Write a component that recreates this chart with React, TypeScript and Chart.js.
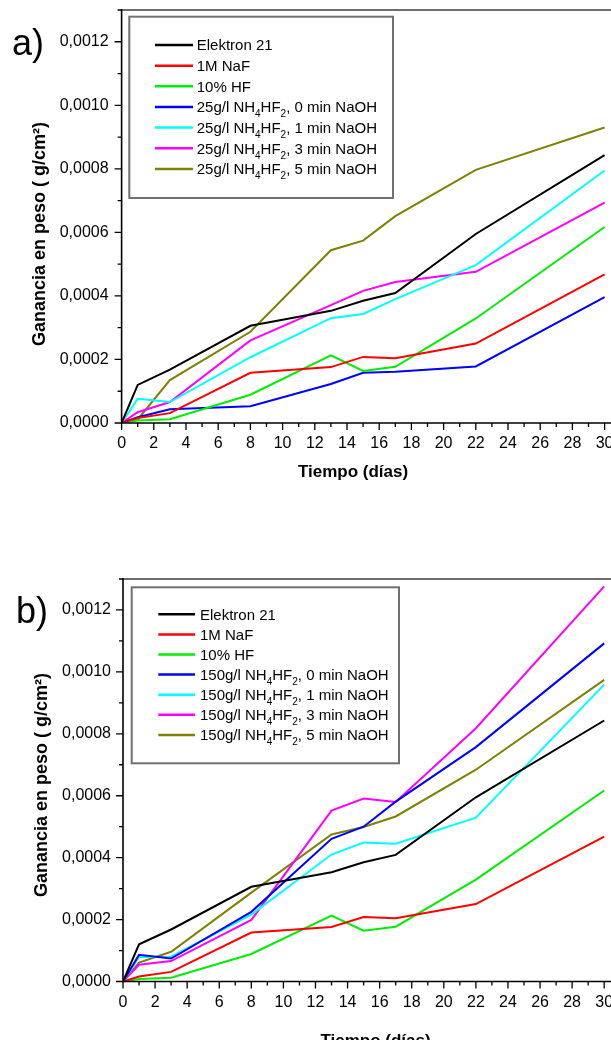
import React, { useEffect, useRef } from 'react';
import { Chart, registerables } from 'chart.js';

Chart.register(...registerables);

// ---------- data ----------
const days = [0, 1, 3, 8, 13, 15, 17, 22, 30];

const elektron21 = [0, 0.00012, 0.000168, 0.000306, 0.000353, 0.000385, 0.000409, 0.000595, 0.000843];
const naF1M = [0, 0.000016, 0.000031, 0.000158, 0.000176, 0.000208, 0.000204, 0.00025, 0.000468];
const hf10 = [0, 0.000008, 0.000012, 0.000089, 0.000213, 0.000164, 0.000177, 0.000329, 0.000617];

// a) 25 g/l NH4HF2
const a0min = [0, 0.000018, 0.000043, 0.000053, 0.000123, 0.000158, 0.000161, 0.000178, 0.000396];
const a1min = [0, 0.000076, 0.000066, 0.000207, 0.00033, 0.000343, 0.00039, 0.000497, 0.000795];
const a3min = [0, 0.000034, 0.000066, 0.00026, 0.000371, 0.000416, 0.000444, 0.000476, 0.000694];
const a5min = [0, 0.000011, 0.000135, 0.000287, 0.000544, 0.000574, 0.000651, 0.000797, 0.00093];

// b) 150 g/l NH4HF2
const b0min = [0, 0.000086, 0.000074, 0.000225, 0.000461, 0.0005, 0.000581, 0.000757, 0.001092];
const b1min = [0, 0.000079, 0.00008, 0.000216, 0.00041, 0.000449, 0.000445, 0.000529, 0.000959];
const b3min = [0, 0.000054, 0.000066, 0.000199, 0.000552, 0.000591, 0.00058, 0.000818, 0.001276];
const b5min = [0, 0.000061, 0.000096, 0.000287, 0.000475, 0.000499, 0.000533, 0.000684, 0.000974];

const labelsA = [
  'Elektron 21',
  '1M NaF',
  '10% HF',
  '25g/l NH₄HF₂, 0 min NaOH',
  '25g/l NH₄HF₂, 1 min NaOH',
  '25g/l NH₄HF₂, 3 min NaOH',
  '25g/l NH₄HF₂, 5 min NaOH',
];
const labelsB = [
  'Elektron 21',
  '1M NaF',
  '10% HF',
  '150g/l NH₄HF₂, 0 min NaOH',
  '150g/l NH₄HF₂, 1 min NaOH',
  '150g/l NH₄HF₂, 3 min NaOH',
  '150g/l NH₄HF₂, 5 min NaOH',
];

const seriesColors = ['#000000', '#ff0000', '#00ee00', '#0000ff', '#00ffff', '#ff00ff', '#808000'];

const xTickLabels = ['0', '2', '4', '6', '8', '10', '12', '14', '16', '18', '20', '22', '24', '26', '28', '30'];
const yTickLabels = ['0,0000', '0,0002', '0,0004', '0,0006', '0,0008', '0,0010', '0,0012'];
const xAxisTitle = 'Tiempo (días)';
const yAxisTitle = 'Ganancia en peso ( g/cm²)';

const FONT = '"Liberation Sans", Arial, sans-serif';
const SUBS: Record<string, string> = { '₀': '0', '₁': '1', '₂': '2', '₃': '3', '₄': '4', '₅': '5', '₆': '6', '₇': '7', '₈': '8', '₉': '9' };

function drawRich(ctx: CanvasRenderingContext2D, text: string, x: number, baseline: number, size: number) {
  const runs: { t: string; sub: boolean }[] = [];
  for (const ch of text) {
    const sub = ch in SUBS;
    const c = sub ? SUBS[ch] : ch;
    if (runs.length && runs[runs.length - 1].sub === sub) runs[runs.length - 1].t += c;
    else runs.push({ t: c, sub });
  }
  let cx = x;
  ctx.textAlign = 'left';
  ctx.textBaseline = 'alphabetic';
  for (const r of runs) {
    ctx.font = `${r.sub ? 10 : size}px ${FONT}`;
    ctx.fillText(r.t, cx, r.sub ? baseline + 5 : baseline);
    cx += ctx.measureText(r.t).width;
  }
}

const decorPlugin = {
  id: 'decor',
  afterDraw(chart: any, _args: any, o: any) {
    const ctx: CanvasRenderingContext2D = chart.ctx;
    const { left, right, top, bottom } = chart.chartArea;
    const xs = chart.scales.x;
    const ys = chart.scales.y;
    ctx.save();
    // top frame
    ctx.strokeStyle = '#6e6e6e';
    ctx.lineWidth = 2;
    ctx.beginPath();
    ctx.moveTo(left, top);
    ctx.lineTo(right + 20, top);
    ctx.stroke();
    // axes
    ctx.strokeStyle = '#000';
    ctx.lineWidth = 1.6;
    ctx.beginPath();
    ctx.moveTo(left, top - 1);
    ctx.lineTo(left, bottom);
    ctx.lineTo(right + 20, bottom);
    ctx.stroke();
    // tick marks
    ctx.lineWidth = 1.3;
    ctx.beginPath();
    xs.ticks.forEach((t: any) => {
      const px = xs.getPixelForValue(t.value);
      const len = t.label !== '' ? 7 : 4;
      ctx.moveTo(px, bottom);
      ctx.lineTo(px, bottom + len);
    });
    ys.ticks.forEach((t: any) => {
      const py = ys.getPixelForValue(t.value);
      const len = t.label !== '' ? 7 : 4;
      ctx.moveTo(left, py);
      ctx.lineTo(left - len, py);
    });
    ctx.stroke();

    ctx.fillStyle = '#000';
    // panel label
    ctx.font = `36px ${FONT}`;
    ctx.textAlign = 'left';
    ctx.textBaseline = 'alphabetic';
    ctx.fillText(o.panel, o.panelX, o.panelY);

    // axis titles
    ctx.font = `bold 17px ${FONT}`;
    ctx.textAlign = 'center';
    ctx.fillText(xAxisTitle, o.xTitleX, o.xTitleY);
    ctx.save();
    ctx.translate(o.yTitleX, o.yTitleY);
    ctx.rotate(-Math.PI / 2);
    ctx.font = `bold 18px ${FONT}`;
    ctx.textBaseline = 'middle';
    ctx.fillText(yAxisTitle, 0, 0);
    ctx.restore();

    // legend
    const L = o.legend;
    ctx.fillStyle = '#fff';
    ctx.fillRect(L.x, L.y, L.w, L.h);
    ctx.strokeStyle = '#707070';
    ctx.lineWidth = 2;
    ctx.strokeRect(L.x, L.y, L.w, L.h);
    chart.data.datasets.forEach((ds: any, i: number) => {
      const y = L.row0 + i * L.dy;
      ctx.strokeStyle = ds.borderColor;
      ctx.lineWidth = 2.5;
      ctx.beginPath();
      ctx.moveTo(L.lx1, y);
      ctx.lineTo(L.lx2, y);
      ctx.stroke();
      ctx.fillStyle = '#000';
      drawRich(ctx, ds.label, L.tx, y + 5.4, 15);
    });
    ctx.restore();
  },
};

interface PanelCfg {
  series: number[][];
  labels: string[];
  width: number;
  height: number;
  area: { left: number; top: number; right: number; bottom: number };
  yLabelPad: number;
  xLabelPad: number;
  decor: any;
}

function makeConfig(p: PanelCfg): any {
  return {
    type: 'line',
    data: {
      datasets: p.series.map((s, i) => ({
        label: p.labels[i],
        data: days.map((d, k) => ({ x: d, y: s[k] })),
        borderColor: seriesColors[i],
        backgroundColor: seriesColors[i],
        borderWidth: 2,
        pointRadius: 0,
        tension: 0,
        fill: false,
      })),
    },
    options: {
      animation: false,
      responsive: false,
      events: [],
      layout: {
        padding: { left: 0, top: p.area.top, right: p.width - p.area.right, bottom: 0 },
      },
      plugins: {
        legend: { display: false },
        tooltip: { enabled: false },
        title: { display: false },
        decor: p.decor,
      },
      scales: {
        x: {
          type: 'linear',
          min: 0,
          max: 31,
          grid: { display: false, drawTicks: false },
          border: { display: false },
          ticks: {
            stepSize: 1,
            includeBounds: false,
            autoSkip: false,
            maxRotation: 0,
            padding: p.xLabelPad,
            color: '#000',
            font: { family: FONT, size: 16 },
            callback: (v: number) => (v % 2 === 0 ? xTickLabels[v / 2] : ''),
          },
          afterFit: (s: any) => {
            s.height = p.height - p.area.bottom;
          },
        },
        y: {
          type: 'linear',
          min: 0,
          max: 0.0013,
          grid: { display: false, drawTicks: false },
          border: { display: false },
          ticks: {
            stepSize: 0.0001,
            includeBounds: false,
            autoSkip: false,
            padding: p.yLabelPad,
            color: '#000',
            font: { family: FONT, size: 16 },
            callback: (v: number) => {
              const k = Math.round(v / 0.0001);
              return k % 2 === 0 ? yTickLabels[k / 2] : '';
            },
          },
          afterFit: (s: any) => {
            s.width = p.area.left;
          },
        },
      },
    },
    plugins: [decorPlugin],
  };
}

const W = 640;
const panelA: PanelCfg = {
  series: [elektron21, naF1M, hf10, a0min, a1min, a3min, a5min],
  labels: labelsA,
  width: W,
  height: 560,
  area: { left: 121.6, top: 50, right: 121.6 + 31 * 16.1, bottom: 463 },
  yLabelPad: 13,
  xLabelPad: 11,
  decor: {
    panel: 'a)', panelX: 12, panelY: 95,
    xTitleX: 353, xTitleY: 517,
    yTitleX: 40, yTitleY: 274,
    legend: { x: 129.3, y: 56.7, w: 263.7, h: 181.3, row0: 85, dy: 20.65, lx1: 155, lx2: 193, tx: 196.7 },
  },
};
const panelB: PanelCfg = {
  series: [elektron21, naF1M, hf10, b0min, b1min, b3min, b5min],
  labels: labelsB,
  width: W,
  height: 540,
  area: { left: 123, top: 59, right: 123 + 31 * 16.04, bottom: 461.5 },
  yLabelPad: 12,
  xLabelPad: 11,
  decor: {
    panel: 'b)', panelX: 16, panelY: 103,
    xTitleX: 375.5, xTitleY: 525.5,
    yTitleX: 42, yTitleY: 265,
    legend: { x: 131.7, y: 67.3, w: 267.3, h: 176, row0: 94.3, dy: 20.1, lx1: 158.3, lx2: 195, tx: 200 },
  },
};

function Panel({ cfg, top }: { cfg: PanelCfg; top: number }) {
  const ref = useRef<HTMLCanvasElement | null>(null);
  useEffect(() => {
    if (!ref.current) return;
    const chart = new Chart(ref.current, makeConfig(cfg));
    return () => chart.destroy();
  }, [cfg]);
  return (
    <canvas
      ref={ref}
      width={cfg.width}
      height={cfg.height}
      style={{ position: 'absolute', left: 0, top, width: cfg.width, height: cfg.height }}
    />
  );
}

export default function App() {
  return (
    <div
      style={{
        position: 'absolute',
        left: 0,
        top: 0,
        width: 611,
        height: 1040,
        overflow: 'hidden',
        background: '#fff',
      }}
    >
      <Panel cfg={panelA} top={-40} />
      <Panel cfg={panelB} top={520} />
    </div>
  );
}
